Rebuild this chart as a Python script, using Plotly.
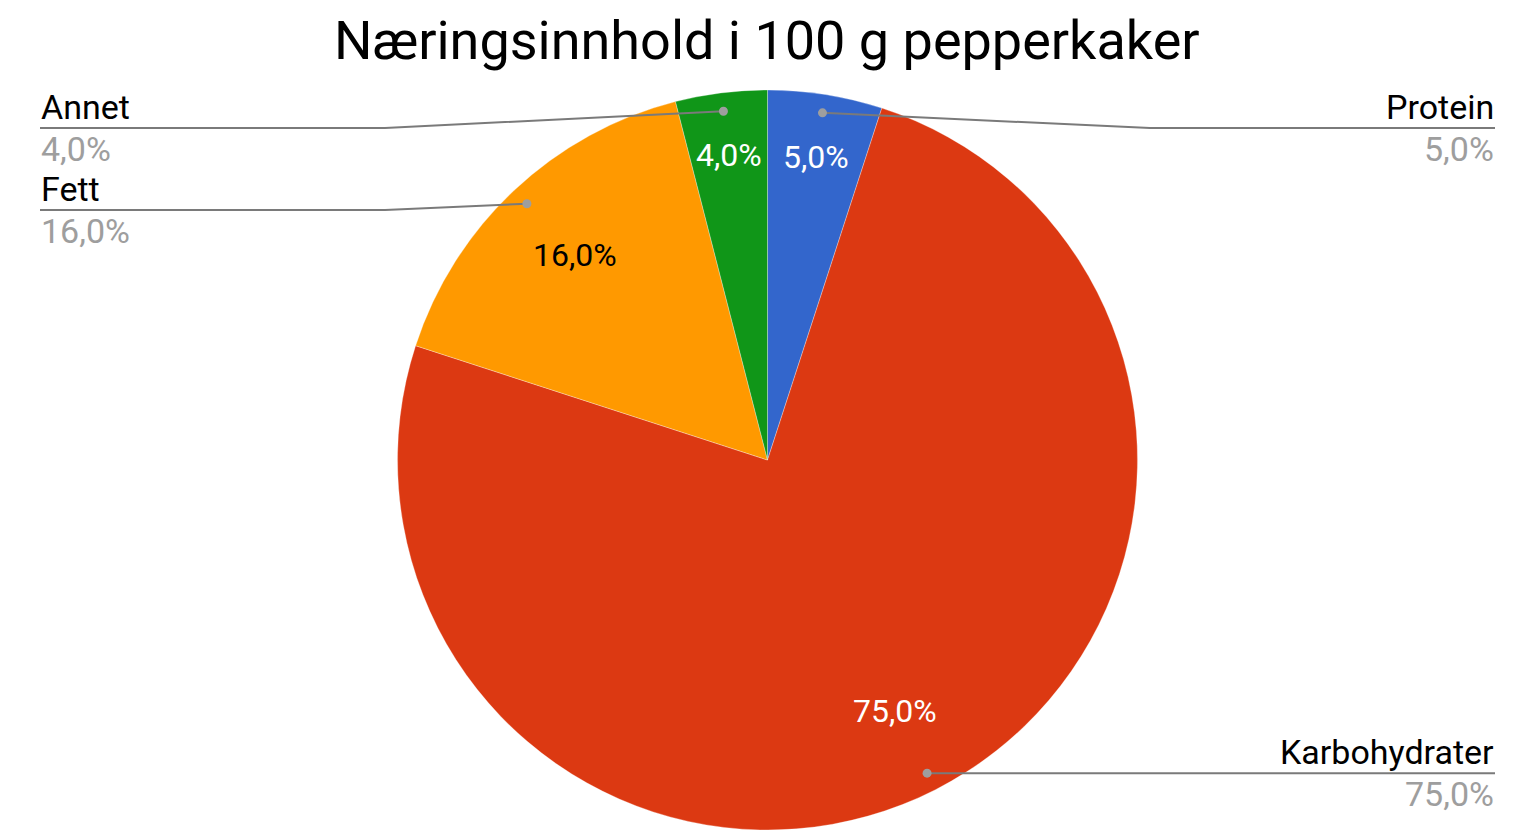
import math
import plotly.graph_objects as go

categories = ["Protein", "Karbohydrater", "Fett", "Annet"]
values = [5.0, 75.0, 16.0, 4.0]
colors = ["#3366cc", "#dc3912", "#ff9900", "#109618"]
inside_text_colors = ["white", "white", "black", "white"]
title_text = "Næringsinnhold i 100 g pepperkaker"

W, H = 1518, 840
OFF = 8.0  # page body margin offset of the figure
CX, CY, R = 767.5, 460.0, 370.0


def fmt(v):
    return f"{v:.1f}".replace(".", ",") + "%"


def px_to_paper(x, y):
    return (x - OFF) / W, 1 - (y - OFF) / H


total = sum(values)
pct = [v / total * 100 for v in values]
labels_txt = [fmt(p) for p in pct]

dx0, dy1 = px_to_paper(CX - R, CY - R)
dx1, dy0 = px_to_paper(CX + R, CY + R)

fig = go.Figure()
fig.add_trace(go.Pie(
    labels=categories,
    values=values,
    sort=False,
    direction="clockwise",
    rotation=0,
    marker=dict(colors=colors, line=dict(color="rgba(255,255,255,0.6)", width=0.5)),
    textinfo="none",
    hoverinfo="label+percent",
    showlegend=False,
    domain=dict(x=[dx0, dx1], y=[dy0, dy1]),
))

annotations = []
shapes = []

cum = 0.0
mids = []
for v in values:
    start = cum / total * 360
    cum += v
    end = cum / total * 360
    mids.append((start + end) / 2)


def polar(angle_deg, r):
    a = math.radians(angle_deg)
    return CX + r * math.sin(a), CY - r * math.cos(a)


for i, (m, p) in enumerate(zip(mids, pct)):
    frac = 0.83 if p < 10 else 0.76
    x, y = polar(m, R * frac)
    xp, yp = px_to_paper(x, y)
    annotations.append(dict(
        x=xp, y=yp, xref="paper", yref="paper", text=labels_txt[i], showarrow=False,
        font=dict(family="Roboto", size=32, color=inside_text_colors[i]),
        xanchor="center", yanchor="middle",
    ))

MIN_Y, GAP, SEG = 128.0, 82.0, 345.0
LEFT_X, RIGHT_X = 40.0, 1495.0
items = []
for i, m in enumerate(mids):
    dx, dy = polar(m, R * 0.95)
    side = "right" if m < 180 else "left"
    items.append(dict(i=i, dot=(dx, dy), side=side))

for side in ("left", "right"):
    grp = sorted([it for it in items if it["side"] == side], key=lambda it: it["dot"][1])
    last = None
    for it in grp:
        ly = max(it["dot"][1], MIN_Y)
        if last is not None:
            ly = max(ly, last + GAP)
        it["ly"] = ly
        last = ly

line_color = "#7a7a7a"
for it in items:
    i = it["i"]
    dx, dy = it["dot"]
    ly = it["ly"]
    if it["side"] == "right":
        edge = RIGHT_X
        elbow = edge - SEG
        anchor = "right"
    else:
        edge = LEFT_X
        elbow = edge + SEG
        anchor = "left"
    pts = [px_to_paper(dx, dy), px_to_paper(elbow, ly), px_to_paper(edge, ly)]
    path = "M " + " L ".join(f"{x},{y}" for x, y in pts)
    shapes.append(dict(type="path", xref="paper", yref="paper", path=path,
                       line=dict(color=line_color, width=2)))
    x0, y1 = px_to_paper(dx - 4.5, dy - 4.5)
    x1, y0 = px_to_paper(dx + 4.5, dy + 4.5)
    shapes.append(dict(type="circle", xref="paper", yref="paper", x0=x0, y0=y0, x1=x1, y1=y1,
                       fillcolor="#9e9e9e", line=dict(width=0)))
    ex, eyp = px_to_paper(edge, ly)
    annotations.append(dict(
        x=ex, y=eyp, xref="paper", yref="paper", text=categories[i], showarrow=False,
        font=dict(family="Roboto", size=34, color="#000000"),
        xanchor=anchor, yanchor="bottom", yshift=0, borderpad=0,
    ))
    annotations.append(dict(
        x=ex, y=eyp, xref="paper", yref="paper", text=labels_txt[i], showarrow=False,
        font=dict(family="Roboto", size=34, color="#9e9e9e"),
        xanchor=anchor, yanchor="top", yshift=0, borderpad=0,
    ))

tx, _ = px_to_paper(767.5, 0)
annotations.append(dict(
    x=tx, y=1, xref="paper", yref="paper", text=title_text, showarrow=False,
    font=dict(family="Roboto", size=54, color="#000000"),
    xanchor="center", yanchor="top", borderpad=0, yshift=0,
))

fig.update_layout(
    width=W, height=H,
    margin=dict(l=0, r=0, t=0, b=0),
    paper_bgcolor="white", plot_bgcolor="white",
    annotations=annotations, shapes=shapes,
    font=dict(family="Roboto"),
)

fig.write_html("out.html")
